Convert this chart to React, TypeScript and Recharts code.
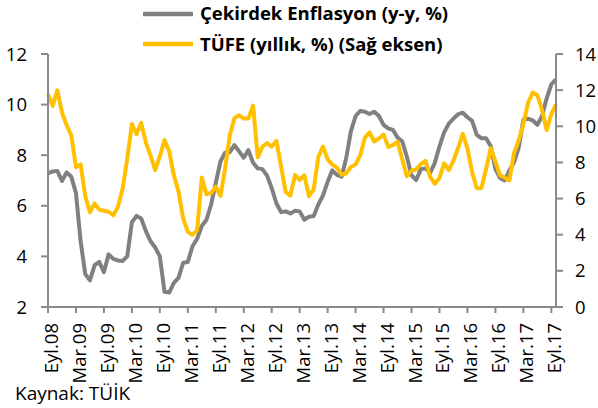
import React from 'react';
import { LineChart, Line, XAxis, YAxis } from 'recharts';

const monthNames = ['Oca', 'Şub', 'Mar', 'Nis', 'May', 'Haz', 'Tem', 'Ağu', 'Eyl', 'Eki', 'Kas', 'Ara'];

// Çekirdek Enflasyon (y-y, %) – left axis
const cekirdek = [
  7.28, 7.36, 7.38, 6.98, 7.32, 7.15, 6.5, 4.6, 3.3, 3.05,
  3.65, 3.78, 3.38, 4.08, 3.9, 3.84, 3.82, 4.0, 5.35, 5.6,
  5.5, 5.0, 4.6, 4.35, 4.0, 2.6, 2.57, 2.95, 3.15, 3.75,
  3.78, 4.4, 4.7, 5.2, 5.45, 6.05, 6.9, 7.75, 8.1, 8.12,
  8.4, 8.15, 7.9, 8.2, 7.7, 7.48, 7.45, 7.2, 6.7, 6.1,
  5.75, 5.78, 5.7, 5.8, 5.78, 5.45, 5.57, 5.6, 6.05, 6.4,
  6.95, 7.4, 7.22, 7.15, 7.9, 8.95, 9.55, 9.75, 9.72, 9.63,
  9.72, 9.55, 9.2, 9.06, 9.0, 8.7, 8.55, 7.94, 7.2, 7.02,
  7.45, 7.48, 7.3, 7.7, 8.35, 8.9, 9.25, 9.45, 9.62, 9.68,
  9.5, 9.36, 8.8, 8.67, 8.67, 8.35, 7.45, 7.1, 7.0, 7.4,
  7.72, 8.3, 9.4, 9.44, 9.38, 9.2, 9.55, 10.25, 10.8, 11.0,
];

// TÜFE (yıllık, %) – right axis
const tufe = [
  11.77, 11.13, 11.99, 10.76, 10.06, 9.5, 7.73, 7.89, 6.13, 5.24,
  5.73, 5.39, 5.33, 5.27, 5.08, 5.53, 6.53, 8.19, 10.13, 9.56,
  10.19, 9.1, 8.37, 7.58, 8.33, 9.24, 8.62, 7.29, 6.4, 4.9,
  4.16, 3.99, 4.26, 7.17, 6.24, 6.31, 6.65, 6.15, 7.66, 9.48,
  10.45, 10.61, 10.43, 10.43, 11.14, 8.28, 8.87, 9.07, 8.88, 9.19,
  7.8, 6.37, 6.16, 7.31, 7.03, 7.29, 6.13, 6.51, 8.3, 8.88,
  8.17, 7.88, 7.71, 7.32, 7.4, 7.75, 7.89, 8.39, 9.38, 9.66,
  9.16, 9.32, 9.54, 8.86, 8.96, 9.15, 8.17, 7.24, 7.55, 7.61,
  7.91, 8.09, 7.2, 6.81, 7.14, 7.95, 7.58, 8.1, 8.81, 9.58,
  8.78, 7.46, 6.57, 6.58, 7.64, 8.79, 8.05, 7.28, 7.16, 7.0,
  8.53, 9.22, 10.13, 11.29, 11.87, 11.72, 10.9, 9.79, 10.68, 11.2,
];

// category labels (first category shown as Eyl.08)
const categories: string[] = [];
for (let i = 0; i < cekirdek.length; i++) {
  const m = (8 + i) % 12;
  const y = 8 + Math.floor((8 + i) / 12);
  categories.push(`${monthNames[m]}.${String(y).padStart(2, '0')}`);
}
const xTicks = categories.filter((_, i) => i % 6 === 0);
const leftTicks = [2, 4, 6, 8, 10, 12];
const rightTicks = [0, 2, 4, 6, 8, 10, 12, 14];

const data = categories.map((c, i) => ({ label: c, cekirdek: cekirdek[i], tufe: tufe[i] }));

const FONT = '"Open Sans", sans-serif';
const AXIS = '#8a8a8a';
const GRAY = '#808080';
const GOLD = '#FFC000';

const XTick = (props: any) => {
  const { x, y, payload } = props;
  return (
    <g transform={`translate(${x},${y})`}>
      <text transform="rotate(-90)" textAnchor="end" x={0} y={0} dy={10} fontSize={18.5} fontFamily={FONT} fill="#000">
        {payload.value}
      </text>
    </g>
  );
};

export default function App() {
  return (
    <div style={{ position: 'absolute', left: 0, top: 0, width: 598, height: 408, background: '#fff' }}>
      <LineChart width={598} height={408} data={data} margin={{ top: 54, right: 0, bottom: 0, left: 0 }}>
        <XAxis
          dataKey="label"
          ticks={xTicks}
          interval={0}
          height={101}
          tick={<XTick />}
          tickSize={6}
          tickMargin={10}
          axisLine={{ stroke: AXIS, strokeWidth: 2 }}
          tickLine={{ stroke: AXIS, strokeWidth: 2 }}
        />
        <YAxis
          yAxisId="left"
          orientation="left"
          width={48}
          domain={[2, 12]}
          ticks={leftTicks}
          interval={0}
          tickSize={7}
          tickMargin={14}
          axisLine={{ stroke: AXIS, strokeWidth: 2 }}
          tickLine={{ stroke: AXIS, strokeWidth: 2 }}
          tick={{ fontSize: 18.5, fontFamily: FONT, fill: '#000' }}
        />
        <YAxis
          yAxisId="right"
          orientation="right"
          width={42}
          domain={[0, 14]}
          ticks={rightTicks}
          interval={0}
          tickSize={7}
          tickMargin={12}
          axisLine={{ stroke: AXIS, strokeWidth: 2 }}
          tickLine={{ stroke: AXIS, strokeWidth: 2 }}
          tick={{ fontSize: 18.5, fontFamily: FONT, fill: '#000' }}
        />
        <Line yAxisId="left" dataKey="cekirdek" type="linear" stroke={GRAY} strokeWidth={4} dot={false} isAnimationActive={false} strokeLinejoin="round" />
        <Line yAxisId="right" dataKey="tufe" type="linear" stroke={GOLD} strokeWidth={4} dot={false} isAnimationActive={false} strokeLinejoin="round" />
      </LineChart>
      <svg width={598} height={60} style={{ position: 'absolute', left: 0, top: 0 }}>
        <line x1={143} y1={14} x2={193} y2={14} stroke={GRAY} strokeWidth={4.5} />
        <line x1={143} y1={44} x2={193} y2={44} stroke={GOLD} strokeWidth={4.5} />
        <text x={200} y={20} fontSize={18.5} fontWeight="bold" fontFamily={FONT} fill="#000">Çekirdek Enflasyon (y-y, %)</text>
        <text x={200} y={51} fontSize={18.5} fontWeight="bold" fontFamily={FONT} fill="#000">TÜFE (yıllık, %) (Sağ eksen)</text>
      </svg>
      <div style={{ position: 'absolute', left: 15, top: 381, fontFamily: FONT, fontSize: 19, color: '#000', lineHeight: '24px', whiteSpace: 'nowrap' }}>
        Kaynak: TÜİK
      </div>
    </div>
  );
}
